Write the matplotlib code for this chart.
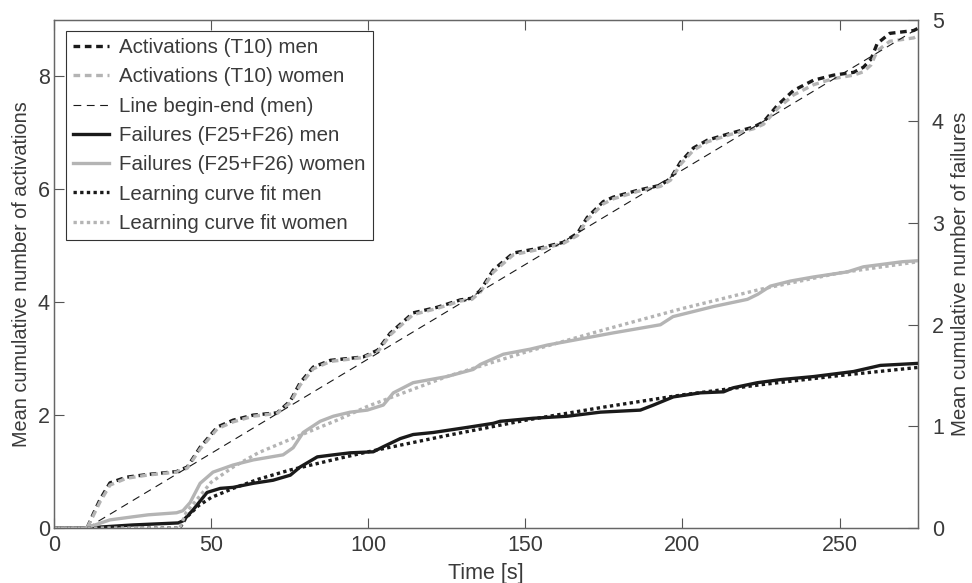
import numpy as np
import matplotlib
matplotlib.use("Agg")
import matplotlib.pyplot as plt

plt.rcParams['font.family'] = ['Liberation Sans', 'DejaVu Sans']

# activations (left axis)
t_act = [0, 10.5, 12.5, 14.6, 17.8, 23, 30, 39, 42.4, 46.5, 52, 57, 63.4, 71, 75.2, 78.3,
         82.5, 88, 98.4, 103, 107, 114.3, 122, 129.3, 133, 135.7, 139.8, 146.2, 154.8,
         162.1, 166.6, 169.7, 174.8, 178, 185.7, 193, 196.2, 199.4, 203.5, 208, 215.3,
         222.6, 225.8, 230.3, 235.4, 241.7, 248.1, 254.5, 257.6, 260, 262, 266, 273.6, 275]
act_men = [0, 0, 0.25, 0.5, 0.8, 0.9, 0.95, 1.0, 1.08, 1.43, 1.79, 1.91, 2.0, 2.04, 2.25, 2.57,
           2.85, 2.97, 3.03, 3.15, 3.45, 3.81, 3.91, 4.04, 4.07, 4.21, 4.57, 4.87, 4.96,
           5.06, 5.22, 5.5, 5.78, 5.86, 5.98, 6.07, 6.19, 6.48, 6.73, 6.87, 6.99,
           7.10, 7.19, 7.49, 7.75, 7.93, 8.02, 8.07, 8.16, 8.3, 8.58, 8.76, 8.81, 8.85]
act_women = [0, 0, 0.22, 0.46, 0.76, 0.88, 0.94, 0.99, 1.06, 1.40, 1.76, 1.88, 1.98, 2.03, 2.22, 2.53,
             2.82, 2.95, 3.02, 3.12, 3.42, 3.78, 3.89, 4.02, 4.05, 4.18, 4.53, 4.84, 4.94,
             5.04, 5.18, 5.46, 5.74, 5.83, 5.96, 6.05, 6.16, 6.44, 6.69, 6.84, 6.97,
             7.07, 7.15, 7.43, 7.67, 7.85, 7.96, 8.02, 8.08, 8.2, 8.45, 8.62, 8.68, 8.72]
line_t = [10.5, 275]
line_y = [0, 8.85]

# failures (right axis)
t_fm = [0, 12, 15, 25, 39.5, 41, 44.3, 48.7, 52.9, 57, 63.4, 69.7, 75.2, 78.3, 83.8, 88.9,
        94.3, 101.6, 104.8, 110.2, 114.3, 120.7, 131.5, 139.8, 142, 152.5, 163.4, 173.9,
        186.6, 190.8, 197.1, 205.7, 213.1, 216.2, 223.9, 231.2, 241.7, 254.5, 263, 275]
fail_men = [0, 0, 0.01, 0.03, 0.05, 0.07, 0.18, 0.35, 0.39, 0.40, 0.44, 0.47, 0.52, 0.6, 0.7, 0.72,
            0.74, 0.75, 0.8, 0.88, 0.92, 0.94, 0.99, 1.03, 1.05, 1.08, 1.10, 1.14,
            1.16, 1.21, 1.29, 1.33, 1.34, 1.38, 1.43, 1.46, 1.49, 1.54, 1.6, 1.62]
t_fw = [0, 10, 13, 17.8, 25, 30, 39, 41, 43.3, 46.5, 50.6, 57, 63.4, 72.9, 76.1, 79.3, 84.7,
        88.9, 94.3, 99.7, 104.8, 108, 114.3, 125, 133.4, 135.7, 143, 151.6, 157, 167.5,
        178, 193, 197, 210, 220.7, 224, 228, 234.4, 241.7, 252.5, 257.6, 270, 275]
fail_women = [0, 0, 0.03, 0.08, 0.11, 0.13, 0.15, 0.17, 0.25, 0.44, 0.55, 0.62, 0.67, 0.72, 0.79, 0.94, 1.05,
              1.10, 1.14, 1.16, 1.21, 1.33, 1.43, 1.49, 1.56, 1.61, 1.71, 1.76, 1.80, 1.86,
              1.92, 2.0, 2.08, 2.18, 2.25, 2.30, 2.38, 2.43, 2.47, 2.52, 2.57, 2.62, 2.63]

# learning curve fits (right axis)
t_fit = [0, 40, 42, 46, 50, 57, 65, 75, 90, 100, 125, 150, 175, 200, 225, 250, 275]
fit_men = [0, 0, 0.1, 0.22, 0.3, 0.39, 0.48, 0.57, 0.68, 0.75, 0.91, 1.06, 1.19, 1.31, 1.41, 1.5, 1.58]
fit_women = [0, 0, 0.15, 0.3, 0.45, 0.6, 0.74, 0.87, 1.06, 1.2, 1.49, 1.73, 1.95, 2.16, 2.35, 2.51, 2.62]

BLACK = '#1a1a1a'
GREY = '#b4b4b4'
TXT = '#3a3a3a'
FS = 15.5

fig, ax = plt.subplots(figsize=(9.72, 5.83), dpi=100)
fig.subplots_adjust(left=0.0556, right=0.9445, top=0.966, bottom=0.0943)
ax2 = ax.twinx()

h1, = ax.plot(t_act, act_men, color=BLACK, ls=(0, (2.0, 1.4)), lw=2.4)
h2, = ax.plot(t_act, act_women, color=GREY, ls=(0, (2.0, 1.4)), lw=2.4)
h3, = ax.plot(line_t, line_y, color=BLACK, ls=(0, (7, 5)), lw=0.8)
h4, = ax2.plot(t_fm, fail_men, color=BLACK, lw=2.4)
h5, = ax2.plot(t_fw, fail_women, color=GREY, lw=2.4)
h6, = ax2.plot(t_fit, fit_men, color=BLACK, ls=(0, (1, 1)), lw=2.4)
h7, = ax2.plot(t_fit, fit_women, color=GREY, ls=(0, (1, 1)), lw=2.4)

ax.set_xlim(0, 275)
ax.set_ylim(0, 9)
ax2.set_ylim(0, 5)
ax.set_xticks([0, 50, 100, 150, 200, 250])
ax.set_yticks([0, 2, 4, 6, 8])
ax2.set_yticks([0, 1, 2, 3, 4, 5])

for a in (ax, ax2):
    a.tick_params(direction='in', length=7, width=0.8, colors='#555555',
                  labelcolor=TXT, labelsize=FS, pad=3)
    for s in a.spines.values():
        s.set_color('#666666')
        s.set_linewidth(0.9)
ax.tick_params(top=True, right=False)
ax.tick_params(axis='x', pad=5)
ax2.tick_params(axis='y', pad=10)

ax.set_xlabel('Time [s]', fontsize=FS, color=TXT, labelpad=5)
ax.set_ylabel('Mean cumulative number of activations', fontsize=14.3, color=TXT, labelpad=5)
ax2.set_ylabel('Mean cumulative number of failures', fontsize=14.8, color=TXT, labelpad=5)

labels = ['Activations (T10) men', 'Activations (T10) women', 'Line begin-end (men)',
          'Failures (F25+F26) men', 'Failures (F25+F26) women',
          'Learning curve fit men', 'Learning curve fit women']
leg = ax2.legend([h1, h2, h3, h4, h5, h6, h7], labels, loc='upper left',
                 bbox_to_anchor=(0.0139, 0.978), borderaxespad=0, fontsize=14.8,
                 fancybox=False, framealpha=1, edgecolor='#333333', handlelength=1.75,
                 handletextpad=0.5, borderpad=0.35, labelspacing=0.5)
leg.get_frame().set_linewidth(0.8)
for t in leg.get_texts():
    t.set_color(TXT)

fig.savefig('out.png', dpi=100)
